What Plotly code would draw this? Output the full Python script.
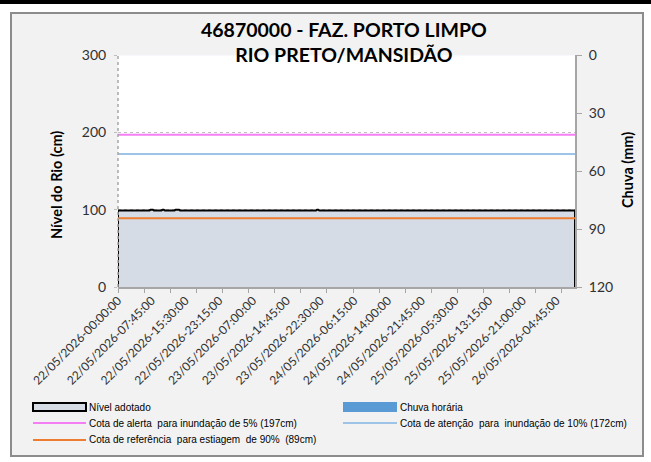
import pandas as pd
import plotly.graph_objects as go

nivel_valores = [99, 100, 99, 100, 99, 100, 99, 100, 99]
nivel_repeticoes = [30, 3, 8, 2, 10, 4, 126, 2, 236]

# chuva horária (mm) - nenhum registro visível
chuva_valores = [0.0]
chuva_repeticoes = [421]

cota_alerta = 197
cota_atencao = 172
cota_referencia = 89

rotulos_x = [
    "22/05/2026-00:00:00", "22/05/2026-07:45:00", "22/05/2026-15:30:00",
    "22/05/2026-23:15:00", "23/05/2026-07:00:00", "23/05/2026-14:45:00",
    "23/05/2026-22:30:00", "24/05/2026-06:15:00", "24/05/2026-14:00:00",
    "24/05/2026-21:45:00", "25/05/2026-05:30:00", "25/05/2026-13:15:00",
    "25/05/2026-21:00:00", "26/05/2026-04:45:00",
]

nivel = [v for v, n in zip(nivel_valores, nivel_repeticoes) for _ in range(n)]
chuva = [v for v, n in zip(chuva_valores, chuva_repeticoes) for _ in range(n)]
horas = pd.date_range("2026-05-22 00:00", periods=len(nivel), freq="15min")
ticks_x = pd.to_datetime(rotulos_x, format="%d/%m/%Y-%H:%M:%S")

W, H = 651, 462
L, R, T, B = 118, 76, 55, 175
PW, PH = W - L - R, H - T - B


def px(x):
    return (x - L) / PW


def py(y):
    return (H - B - y) / PH


fig = go.Figure()

# área do nível, fechada até o zero
x_area = [horas[0]] + list(horas) + [horas[-1]]
y_area = [0] + nivel + [0]
fig.add_trace(go.Scatter(
    x=x_area, y=y_area, fill="toself", fillcolor="#d6dce5",
    line=dict(color="black", width=2), mode="lines",
    name="Nível adotado", showlegend=False,
))
fig.add_trace(go.Bar(
    x=horas, y=chuva, yaxis="y2", marker_color="#5b9bd5",
    name="Chuva horária", showlegend=False,
))
for valor, cor in [(cota_alerta, "#f47ef4"), (cota_atencao, "#9dc3e6"), (cota_referencia, "#ed7d31")]:
    fig.add_trace(go.Scatter(
        x=horas, y=[valor] * len(horas), mode="lines",
        line=dict(color=cor, width=2), showlegend=False,
    ))

shapes = [
    dict(type="rect", xref="paper", yref="paper", x0=px(11), x1=px(643), y0=py(13), y1=py(456),
         fillcolor="#f2f2f2", line=dict(color="#8c8c8c", width=2), layer="below"),
    dict(type="rect", xref="paper", yref="paper", x0=0, x1=1, y0=0, y1=1,
         fillcolor="white", line=dict(width=0), layer="below"),
    dict(type="line", xref="paper", yref="paper", x0=px(0), x1=px(651), y0=py(2), y1=py(2),
         line=dict(color="black", width=4)),
    dict(type="line", xref="paper", yref="paper", x0=0, x1=0, y0=0, y1=1,
         line=dict(color="#a6a6a6", width=1.5, dash="dot")),
]

fonte_leg = dict(family="Liberation Sans, Arial", size=10, color="black")
legenda = [
    ("box", 33, 86, 407, "#d6dce5", "Nível adotado"),
    ("box2", 343, 397, 407, "#5b9bd5", "Chuva horária"),
    ("line", 33, 86, 423, "#f47ef4", "Cota de alerta  para inundação de 5% (197cm)"),
    ("line", 343, 397, 423, "#9dc3e6", "Cota de atenção  para  inundação de 10% (172cm)"),
    ("line", 33, 86, 440, "#ed7d31", "Cota de referência  para estiagem  de 90%  (89cm)"),
]
annotations = []
for tipo, x0, x1, y, cor, texto in legenda:
    if tipo == "box":
        shapes.append(dict(type="rect", xref="paper", yref="paper", x0=px(x0), x1=px(x1),
                           y0=py(y + 4), y1=py(y - 4), fillcolor=cor, line=dict(color="black", width=2)))
    elif tipo == "box2":
        shapes.append(dict(type="rect", xref="paper", yref="paper", x0=px(x0), x1=px(x1),
                           y0=py(y + 5), y1=py(y - 5), fillcolor=cor, line=dict(width=0)))
    else:
        shapes.append(dict(type="line", xref="paper", yref="paper", x0=px(x0), x1=px(x1),
                           y0=py(y), y1=py(y), line=dict(color=cor, width=2)))
    annotations.append(dict(x=px(x1 + 1), y=py(y), xref="paper", yref="paper", text=texto,
                            showarrow=False, xanchor="left", yanchor="middle", font=fonte_leg))

annotations += [
    dict(x=px(344), y=py(42), xref="paper", yref="paper", showarrow=False,
         text="<b>46870000 - FAZ. PORTO LIMPO<br>RIO PRETO/MANSIDÃO</b>",
         font=dict(family="Lato", size=19.5, color="black"), xanchor="center", yanchor="middle"),
    dict(x=px(56), y=py(185), xref="paper", yref="paper", showarrow=False, textangle=-90,
         xanchor="center", yanchor="middle",
         text="<b>Nível do Rio (cm)</b>", font=dict(family="Lato", size=14.5, color="black")),
    dict(x=px(627), y=py(170), xref="paper", yref="paper", showarrow=False, textangle=-90,
         xanchor="center", yanchor="middle",
         text="<b>Chuva (mm)</b>", font=dict(family="Lato", size=14.5, color="black")),
]

fig.update_layout(
    width=W, height=H,
    margin=dict(l=L, r=R, t=T, b=B, autoexpand=False),
    paper_bgcolor="white", plot_bgcolor="white",
    showlegend=False, bargap=0,
    shapes=shapes, annotations=annotations,
    xaxis=dict(
        range=[horas[0], horas[-1]], tickvals=ticks_x, ticktext=rotulos_x, tickangle=-45,
        ticks="", showgrid=False, showline=True, linecolor="#a6a6a6", linewidth=2,
        tickfont=dict(family="Lato", size=12, color="#303030"), automargin=False,
        minor=dict(ticks="outside", ticklen=4, tickcolor="#a6a6a6", dtick=6 * 3600 * 1000,
                   tick0="2026-05-22 00:00", showgrid=False),
        zeroline=False,
    ),
    yaxis=dict(
        range=[0, 300], tickvals=[0, 100, 200, 300], showgrid=True, gridcolor="#bfbfbf",
        griddash="dot", zeroline=False, ticks="outside", ticklen=3, tickcolor="#bfbfbf",
        ticklabelstandoff=5,
        tickfont=dict(family="Lato", size=14, color="#303030"), automargin=False,
    ),
    yaxis2=dict(
        overlaying="y", side="right", range=[120, 0], tickvals=[0, 30, 60, 90, 120],
        showgrid=False, zeroline=False, showline=True, linecolor="#a6a6a6", linewidth=2,
        ticks="outside", ticklen=5, tickcolor="#a6a6a6", automargin=False,
        ticklabelstandoff=4,
        tickfont=dict(family="Lato", size=14, color="#303030"),
    ),
)

# a página do plotly tem margem padrão no body; zera para alinhar a figura ao canto
fig.write_html("out.html", config={"displayModeBar": False},
               post_script="document.body.style.margin='0';")
